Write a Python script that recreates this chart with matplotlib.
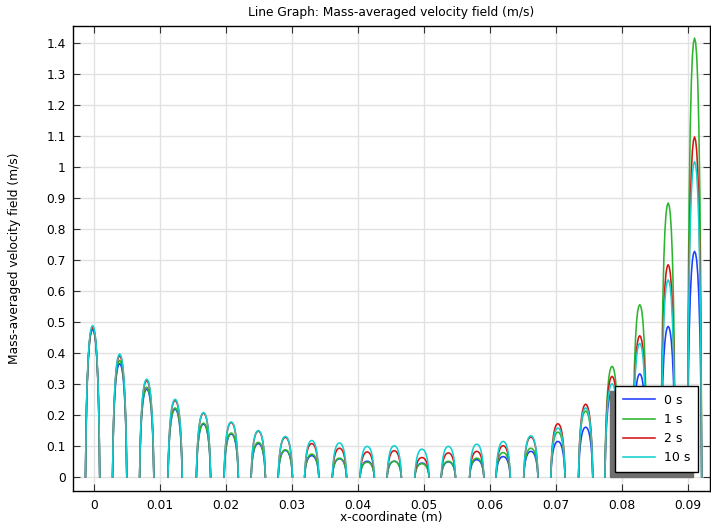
import matplotlib
matplotlib.use("Agg")
import matplotlib.pyplot as plt
import numpy as np

# ---- data ----
hump_centers = [-0.0002, 0.0039, 0.0080, 0.0123, 0.0166, 0.0208, 0.0249, 0.0290,
                0.0330, 0.0372, 0.0414, 0.0455, 0.0497, 0.0537, 0.0580, 0.0620,
                0.0662, 0.0703, 0.0745, 0.0785, 0.0827, 0.0870, 0.0910]
hump_halfwidth = 0.00108

# normalised channel profile (position across channel, relative velocity)
profile_s = [-1.0, -0.97, -0.92, -0.85, -0.75, -0.6, -0.45, -0.3, -0.15, 0.0,
             0.15, 0.3, 0.45, 0.6, 0.75, 0.85, 0.92, 0.97, 1.0]
profile_v = [0.0, 0.12, 0.30, 0.47, 0.64, 0.80, 0.90, 0.96, 0.99, 1.0,
             0.99, 0.96, 0.90, 0.80, 0.64, 0.47, 0.30, 0.12, 0.0]

peaks_0s = [0.475, 0.365, 0.283, 0.218, 0.170, 0.138, 0.107, 0.085, 0.068, 0.058,
            0.050, 0.050, 0.044, 0.048, 0.055, 0.065, 0.082, 0.114, 0.160, 0.275,
            0.332, 0.485, 0.727]
peaks_1s = [0.480, 0.375, 0.289, 0.222, 0.173, 0.141, 0.111, 0.087, 0.073, 0.060,
            0.047, 0.050, 0.042, 0.050, 0.060, 0.078, 0.092, 0.144, 0.212, 0.356,
            0.555, 0.883, 1.415]
peaks_2s = [0.482, 0.390, 0.310, 0.246, 0.205, 0.175, 0.147, 0.127, 0.107, 0.092,
            0.080, 0.084, 0.062, 0.077, 0.082, 0.100, 0.128, 0.171, 0.234, 0.324,
            0.455, 0.684, 1.096]
peaks_10s = [0.488, 0.396, 0.315, 0.250, 0.207, 0.177, 0.149, 0.130, 0.117, 0.109,
             0.098, 0.100, 0.089, 0.098, 0.105, 0.114, 0.132, 0.157, 0.222, 0.300,
             0.430, 0.635, 1.017]

series_labels = ["0 s", "1 s", "2 s", "10 s"]
series_peaks = [peaks_0s, peaks_1s, peaks_2s, peaks_10s]
series_colors = ["#1f3cff", "#2db52d", "#d41414", "#12d0d0"]

x_ticks = [0, 0.01, 0.02, 0.03, 0.04, 0.05, 0.06, 0.07, 0.08, 0.09]
x_ticklabels = ["0", "0.01", "0.02", "0.03", "0.04", "0.05", "0.06", "0.07", "0.08", "0.09"]
y_ticks = [0, 0.1, 0.2, 0.3, 0.4, 0.5, 0.6, 0.7, 0.8, 0.9, 1.0, 1.1, 1.2, 1.3, 1.4]
y_ticklabels = ["0", "0.1", "0.2", "0.3", "0.4", "0.5", "0.6", "0.7", "0.8", "0.9",
                "1", "1.1", "1.2", "1.3", "1.4"]

# ---- figure ----
plt.rcParams['font.family'] = ['DejaVu Sans']
FS = 8.8
fig = plt.figure(figsize=(7.11, 5.25), dpi=100)
ax = fig.add_axes([72.6 / 711, 1 - 491 / 525, (710 - 72.6) / 711, (491 - 26) / 525])

s_arr = np.array(profile_s)
v_arr = np.array(profile_v)
for label, peaks, color in zip(series_labels, series_peaks, series_colors):
    xs, ys = [], []
    for c, p in zip(hump_centers, peaks):
        xs.extend(list(c + s_arr * hump_halfwidth) + [np.nan])
        ys.extend(list(p * v_arr) + [np.nan])
    ax.plot(xs, ys, color=color, lw=1.15, label=label, solid_joinstyle='round')

ax.set_xlim(-0.00323, 0.09334)
ax.set_ylim(-0.046, 1.454)
ax.set_xticks(x_ticks)
ax.set_xticklabels(x_ticklabels)
ax.set_yticks(y_ticks)
ax.set_yticklabels(y_ticklabels)
ax.tick_params(direction='in', length=5, width=0.8, top=True, right=True,
               labelsize=FS, color='#333333')
ax.tick_params(axis='x', pad=6)
ax.tick_params(axis='y', pad=5)
ax.grid(True, color='#e2e2e2', lw=1.0)
ax.set_axisbelow(True)
for sp in ax.spines.values():
    sp.set_linewidth(1.0)
    sp.set_color('black')

ax.set_title("Line Graph: Mass-averaged velocity field (m/s)", fontsize=FS, pad=7)
ax.set_xlabel("x-coordinate (m)", fontsize=FS, labelpad=-1)
ax.set_ylabel("Mass-averaged velocity field (m/s)", fontsize=FS)
ax.yaxis.set_label_coords(-0.0815, 0.5)

leg = ax.legend(loc='lower right', bbox_to_anchor=(0.981, 0.041), borderaxespad=0,
                fontsize=9, frameon=True, fancybox=False, edgecolor='black',
                framealpha=1, handlelength=2.6, handletextpad=0.7, labelspacing=0.5,
                borderpad=0.6,
                shadow={'ox': -3.5, 'oy': -3.5, 'color': '#6e6e6e', 'alpha': 1})
leg.get_frame().set_linewidth(1.0)

fig.savefig("out.png", dpi=100)
